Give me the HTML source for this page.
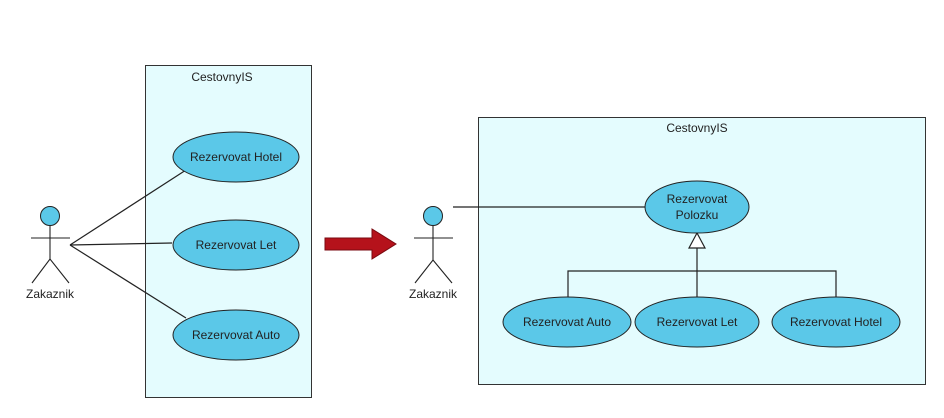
<!DOCTYPE html>
<html><head><meta charset="utf-8"><style>
body{margin:0;background:#fff;}
svg{display:block;}
text{font-family:"Liberation Sans",sans-serif;font-size:12px;fill:#222;}
</style></head><body>
<svg width="944" height="418" viewBox="0 0 944 418">
<rect x="0" y="0" width="944" height="418" fill="#fff"/>
<!-- Left diagram -->
<rect x="145.5" y="65.5" width="166" height="332" fill="#e4fcfe" stroke="#333" stroke-width="1"/>
<text x="222" y="81" text-anchor="middle">CestovnyIS</text>
<g stroke="#222" stroke-width="1.2">
<line x1="70" y1="245" x2="186" y2="170"/>
<line x1="70" y1="245" x2="172" y2="243"/>
<line x1="70" y1="245" x2="186" y2="318"/>
</g>
<g fill="#5bc8e8" stroke="#222" stroke-width="1">
<ellipse cx="236" cy="157" rx="63" ry="25"/>
<ellipse cx="236" cy="245" rx="63" ry="25"/>
<ellipse cx="236" cy="335" rx="63" ry="25"/>
</g>
<text x="236" y="161" text-anchor="middle">Rezervovat Hotel</text>
<text x="236" y="249" text-anchor="middle">Rezervovat Let</text>
<text x="236" y="339" text-anchor="middle">Rezervovat Auto</text>
<!-- left actor -->
<circle cx="50" cy="216" r="9.5" fill="#5bc8e8" stroke="#222"/>
<g stroke="#222" stroke-width="1.1" fill="none">
<line x1="50" y1="226" x2="50" y2="259"/>
<line x1="31" y1="238" x2="70" y2="238"/>
<polyline points="32,283 50,259 69,283"/>
</g>
<text x="50" y="298" text-anchor="middle">Zakaznik</text>
<!-- red arrow -->
<polygon points="325,238 372,238 372,229 396,244 372,259 372,250 325,250" fill="#b5121b" stroke="#7a0a10" stroke-width="1"/>
<!-- Right diagram -->
<rect x="478.5" y="117.5" width="447" height="267" fill="#e4fcfe" stroke="#333" stroke-width="1"/>
<text x="697" y="132" text-anchor="middle">CestovnyIS</text>
<g stroke="#222" stroke-width="1.2" fill="none">
<line x1="453" y1="207" x2="646" y2="207"/>
<line x1="697" y1="248" x2="697" y2="298"/>
<polyline points="568,298 568,271 836,271 836,298"/>
</g>
<polygon points="697,233 689,248 705,248" fill="#fff" stroke="#222" stroke-width="1.2"/>
<g fill="#5bc8e8" stroke="#222" stroke-width="1">
<ellipse cx="697" cy="207" rx="52" ry="26"/>
<ellipse cx="567" cy="322" rx="64" ry="25"/>
<ellipse cx="697" cy="322" rx="62" ry="25"/>
<ellipse cx="836" cy="322" rx="64" ry="25"/>
</g>
<text x="697" y="203" text-anchor="middle">Rezervovat</text>
<text x="697" y="219" text-anchor="middle">Polozku</text>
<text x="567" y="326" text-anchor="middle">Rezervovat Auto</text>
<text x="697" y="326" text-anchor="middle">Rezervovat Let</text>
<text x="836" y="326" text-anchor="middle">Rezervovat Hotel</text>
<!-- right actor -->
<circle cx="433" cy="216" r="9.5" fill="#5bc8e8" stroke="#222"/>
<g stroke="#222" stroke-width="1.1" fill="none">
<line x1="433" y1="226" x2="433" y2="260"/>
<line x1="414" y1="238" x2="453" y2="238"/>
<polyline points="415,283 433,260 452,283"/>
</g>
<text x="433" y="298" text-anchor="middle">Zakaznik</text>
</svg>
</body></html>
